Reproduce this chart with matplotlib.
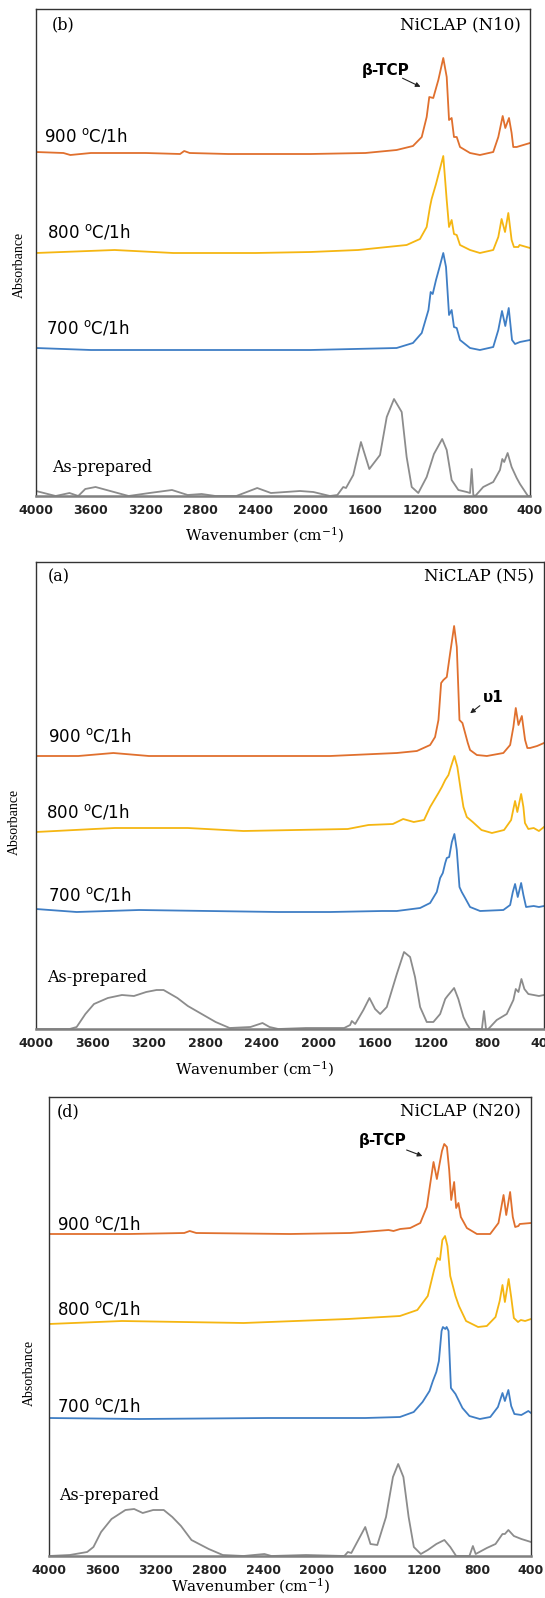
import matplotlib
matplotlib.use('Agg')
import matplotlib.pyplot as plt
from matplotlib.patches import FancyArrowPatch

plt.rcParams['mathtext.fontset'] = 'dejavuserif'

# ---- data (wavenumber cm-1, absorbance a.u. above each baseline) ----
# panel (b) NiCLAP (N10)
b900_wn = [4000, 3800, 3750, 3600, 3200, 2950, 2920, 2880, 2600, 2000, 1600, 1372, 1253, 1189, 1153, 1134, 1105,
           1068, 1032, 1007, 990, 971, 954, 934, 910, 837, 765, 668, 631, 599, 580, 553, 534, 522, 497, 473, 400]
b900_ab = [0.03, 0.02, 0.0, 0.02, 0.02, 0.01, 0.04, 0.02, 0.01, 0.01, 0.02, 0.05, 0.09, 0.18, 0.38, 0.58, 0.57,
           0.75, 0.97, 0.78, 0.35, 0.37, 0.18, 0.18, 0.08, 0.02, 0.0, 0.03, 0.18, 0.39, 0.27, 0.37, 0.22, 0.08, 0.08, 0.09, 0.12]
b800_wn = [4000, 3427, 3000, 2400, 2000, 1653, 1299, 1202, 1153, 1129, 1117, 1085, 1032, 1007, 990, 971, 954, 934,
           910, 837, 765, 668, 631, 607, 582, 558, 534, 517, 485, 476, 400]
b800_ab = [0.0, 0.03, 0.0, 0.0, 0.01, 0.03, 0.08, 0.14, 0.26, 0.46, 0.54, 0.69, 0.97, 0.53, 0.26, 0.33, 0.19, 0.18,
           0.08, 0.03, 0.0, 0.03, 0.16, 0.34, 0.21, 0.40, 0.13, 0.06, 0.06, 0.08, 0.05]
b700_wn = [4000, 3600, 2000, 1372, 1253, 1189, 1140, 1124, 1109, 1085, 1061, 1032, 1012, 990, 971, 954, 934, 910,
           837, 765, 668, 631, 604, 580, 555, 531, 509, 473, 400]
b700_ab = [0.02, 0.0, 0.0, 0.02, 0.07, 0.17, 0.40, 0.58, 0.56, 0.70, 0.82, 0.97, 0.83, 0.35, 0.40, 0.23, 0.22, 0.10,
           0.02, 0.0, 0.03, 0.20, 0.39, 0.24, 0.42, 0.10, 0.06, 0.08, 0.10]
bAP_wn = [4000, 3857, 3756, 3692, 3641, 3566, 3325, 3173, 3009, 2895, 2793, 2692, 2540, 2388, 2288, 2076, 1979, 1858,
          1804, 1761, 1741, 1688, 1632, 1571, 1493, 1444, 1391, 1335, 1299, 1262, 1214, 1153, 1100, 1040, 1007, 971,
          922, 861, 837, 825, 813, 799, 741, 668, 619, 602, 588, 563, 534, 497, 473, 415, 400]
bAP_ab = [0.05, 0.0, 0.03, 0.0, 0.07, 0.09, 0.0, 0.03, 0.06, 0.01, 0.02, 0.0, 0.0, 0.08, 0.03, 0.05, 0.04, 0.0,
          0.01, 0.09, 0.08, 0.21, 0.54, 0.27, 0.41, 0.79, 0.97, 0.84, 0.39, 0.09, 0.03, 0.19, 0.42, 0.57, 0.46, 0.16,
          0.06, 0.04, 0.03, 0.27, 0.01, 0.0, 0.09, 0.14, 0.26, 0.37, 0.34, 0.43, 0.29, 0.18, 0.12, 0.0, 0.0]

# panel (a) NiCLAP (N5)
a900_wn = [4000, 3700, 3452, 3200, 2600, 1916, 1443, 1301, 1207, 1172, 1148, 1129, 1113, 1089, 1065, 1037, 1018, 999,
           978, 959, 940, 924, 876, 805, 688, 640, 617, 600, 581, 557, 534, 518, 499, 449, 400]
a900_ab = [0.0, 0.0, 0.03, 0.0, 0.0, 0.0, 0.03, 0.05, 0.11, 0.19, 0.36, 0.73, 0.76, 0.79, 1.03, 1.30, 1.09, 0.36,
           0.33, 0.23, 0.13, 0.06, 0.01, 0.0, 0.03, 0.11, 0.29, 0.48, 0.31, 0.40, 0.16, 0.08, 0.08, 0.10, 0.13]
a800_wn = [4000, 3589, 3441, 2924, 2530, 1791, 1644, 1471, 1398, 1323, 1250, 1207, 1148, 1124, 1100, 1077, 1060, 1035,
           1014, 990, 971, 947, 905, 843, 769, 683, 633, 614, 605, 589, 562, 546, 535, 511, 473, 436, 400]
a800_ab = [0.0, 0.03, 0.04, 0.04, 0.01, 0.03, 0.07, 0.08, 0.13, 0.10, 0.12, 0.25, 0.39, 0.45, 0.52, 0.57, 0.65, 0.76,
           0.65, 0.42, 0.25, 0.15, 0.10, 0.02, -0.01, 0.02, 0.12, 0.25, 0.31, 0.20, 0.38, 0.25, 0.09, 0.03, 0.04, 0.01, 0.05]
a700_wn = [4000, 3712, 3269, 2284, 1916, 1547, 1443, 1278, 1207, 1160, 1136, 1117, 1100, 1089, 1072, 1053, 1035, 1018,
           999, 983, 959, 924, 853, 688, 640, 621, 605, 586, 562, 546, 527, 473, 436, 400]
a700_ab = [0.01, -0.02, 0.0, -0.02, -0.02, -0.01, -0.01, 0.02, 0.07, 0.18, 0.32, 0.37, 0.47, 0.52, 0.53, 0.68, 0.76, 0.60,
           0.23, 0.18, 0.12, 0.03, -0.01, 0.0, 0.05, 0.18, 0.26, 0.13, 0.27, 0.15, 0.03, 0.04, 0.03, 0.04]
aAP_wn = [4000, 3761, 3712, 3650, 3589, 3491, 3391, 3306, 3219, 3146, 3096, 2998, 2924, 2801, 2727, 2628, 2480, 2395,
          2345, 2283, 2086, 1816, 1774, 1762, 1738, 1680, 1637, 1597, 1561, 1514, 1443, 1392, 1349, 1314, 1278, 1231,
          1184, 1136, 1100, 1084, 1037, 1007, 971, 947, 924, 853, 841, 825, 811, 801, 735, 664, 617, 600, 581, 560,
          539, 511, 473, 436, 400]
aAP_ab = [0.0, 0.0, 0.02, 0.15, 0.25, 0.31, 0.34, 0.33, 0.37, 0.39, 0.39, 0.31, 0.23, 0.13, 0.07, 0.01, 0.02, 0.06,
          0.02, 0.0, 0.01, 0.01, 0.04, 0.08, 0.05, 0.19, 0.31, 0.20, 0.15, 0.22, 0.55, 0.77, 0.72, 0.52, 0.22, 0.07,
          0.07, 0.15, 0.30, 0.33, 0.41, 0.30, 0.12, 0.05, 0.0, 0.0, -0.01, 0.18, 0.0, -0.01, 0.09, 0.15, 0.29, 0.40,
          0.37, 0.50, 0.40, 0.35, 0.34, 0.33, 0.34]

# panel (d) NiCLAP (N20)
d900_wn = [4000, 3400, 2990, 2949, 2900, 2200, 1750, 1464, 1427, 1377, 1302, 1227, 1178, 1153, 1128, 1103, 1083, 1065,
           1048, 1028, 1011, 996, 974, 959, 942, 924, 879, 804, 705, 643, 605, 585, 556, 536, 518, 494, 484, 400]
d900_ab = [0.0, 0.0, 0.01, 0.03, 0.01, 0.0, 0.01, 0.04, 0.03, 0.05, 0.06, 0.11, 0.27, 0.50, 0.72, 0.55, 0.70, 0.83,
           0.90, 0.87, 0.64, 0.34, 0.52, 0.26, 0.31, 0.17, 0.06, 0.0, 0.0, 0.11, 0.39, 0.19, 0.42, 0.17, 0.07, 0.08, 0.10, 0.11]
d800_wn = [4000, 3455, 2547, 1768, 1638, 1379, 1249, 1171, 1124, 1099, 1080, 1062, 1042, 1024, 1003, 964, 938, 885,
           795, 730, 665, 634, 613, 595, 567, 548, 528, 497, 476, 444, 400]
d800_ab = [0.0, 0.03, 0.01, 0.05, 0.06, 0.08, 0.14, 0.28, 0.54, 0.66, 0.64, 0.84, 0.88, 0.78, 0.48, 0.28, 0.18, 0.03,
           -0.03, -0.02, 0.07, 0.23, 0.39, 0.22, 0.45, 0.27, 0.06, 0.02, 0.04, 0.03, 0.05]
d700_wn = [4000, 3326, 2365, 1638, 1379, 1276, 1210, 1158, 1133, 1107, 1088, 1068, 1058, 1040, 1030, 1016, 998, 964,
           912, 860, 782, 704, 647, 613, 595, 569, 548, 524, 472, 420, 400]
d700_ab = [0.0, -0.01, 0.0, 0.0, 0.01, 0.06, 0.16, 0.27, 0.37, 0.46, 0.57, 0.87, 0.91, 0.89, 0.91, 0.87, 0.30, 0.24,
           0.10, 0.02, -0.01, 0.01, 0.11, 0.25, 0.17, 0.28, 0.12, 0.04, 0.03, 0.07, 0.05]
dAP_wn = [4000, 3845, 3715, 3668, 3611, 3533, 3429, 3364, 3300, 3222, 3143, 3079, 3014, 2936, 2807, 2702, 2547, 2391,
          2339, 2080, 1794, 1768, 1742, 1690, 1638, 1599, 1548, 1483, 1431, 1392, 1353, 1314, 1275, 1223, 1171, 1107,
          1047, 1003, 959, 860, 834, 813, 730, 665, 613, 595, 569, 528, 472, 400]
dAP_ab = [0.0, 0.01, 0.04, 0.09, 0.24, 0.37, 0.46, 0.47, 0.43, 0.46, 0.46, 0.39, 0.30, 0.16, 0.07, 0.01, 0.0, 0.02,
          0.0, 0.01, 0.0, 0.04, 0.03, 0.16, 0.29, 0.12, 0.11, 0.39, 0.79, 0.92, 0.79, 0.39, 0.09, 0.02, 0.06, 0.12,
          0.16, 0.09, 0.0, 0.0, 0.10, 0.02, 0.08, 0.12, 0.22, 0.22, 0.26, 0.20, 0.17, 0.14]

labels = ['900 $^{\\mathsf{o}}$C/1h', '800 $^{\\mathsf{o}}$C/1h', '700 $^{\\mathsf{o}}$C/1h', 'As-prepared']
colors = ['#E0702E', '#F5B612', '#3F7EC5', '#8C8C8C']
xticks = [4000, 3600, 3200, 2800, 2400, 2000, 1600, 1200, 800, 400]

W, H = 545, 1598
fig = plt.figure(figsize=(W / 100, H / 100), dpi=100)


def fx(x):
    return x / W


def fy(y):
    return 1 - y / H


# frame given in picture pixels: [left, right, top, bottom]
panels = [
    dict(curves=[(b900_wn, b900_ab), (b800_wn, b800_ab), (b700_wn, b700_ab), (bAP_wn, bAP_ab)],
         offs=[3.41, 2.43, 1.46, 0.0], box=[36, 530, 9, 496], tag='(b)', tagxy=(52, 25),
         title='NiCLAP (N10)', titlexy=(521, 25),
         labxy=[(44, 136), (47, 232), (46, 328), (52, 467)], absxy=(19, 265), xlxy=(265, 535)),
    dict(curves=[(a900_wn, a900_ab), (a800_wn, a800_ab), (a700_wn, a700_ab), (aAP_wn, aAP_ab)],
         offs=[2.73, 1.97, 1.19, 0.0], box=[36, 544, 562, 1029], tag='(a)', tagxy=(48, 577),
         title='NiCLAP (N5)', titlexy=(534, 577),
         labxy=[(48, 736), (46, 812), (48, 895), (47, 978)], absxy=(14, 822), xlxy=(255, 1069)),
    dict(curves=[(d900_wn, d900_ab), (d800_wn, d800_ab), (d700_wn, d700_ab), (dAP_wn, dAP_ab)],
         offs=[3.22, 2.32, 1.38, 0.0], box=[49, 531, 1097, 1556], tag='(d)', tagxy=(57, 1112),
         title='NiCLAP (N20)', titlexy=(521, 1112),
         labxy=[(57, 1224), (57, 1309), (57, 1406), (59, 1495)], absxy=(29, 1373), xlxy=(251, 1586)),
]

for p in panels:
    l, r, t, b = p['box']
    ax = fig.add_axes([fx(l), fy(b), (r - l) / W, (b - t) / H])
    for (wn, ab), off, c in zip(p['curves'], p['offs'], colors):
        ax.plot(wn, [v + off for v in ab], color=c, lw=1.3, solid_joinstyle='round')
    ax.set_xlim(4000, 400)
    ax.set_ylim(0, (b - t) / 100)
    ax.set_yticks([])
    ax.set_xticks(xticks)
    ax.set_xticklabels([str(v) for v in xticks], fontsize=9, fontweight='bold', color='#222222',
                       family='DejaVu Sans')
    ax.tick_params(axis='x', length=0, pad=6)
    for s in ['top', 'left', 'right']:
        ax.spines[s].set_color('#333333')
        ax.spines[s].set_linewidth(1.0)
    ax.spines['bottom'].set_color('#808080')
    ax.spines['bottom'].set_linewidth(1.8)

    fig.text(fx(p['tagxy'][0]), fy(p['tagxy'][1]), p['tag'], family='DejaVu Serif', fontsize=11.5,
             ha='left', va='center')
    fig.text(fx(p['titlexy'][0]), fy(p['titlexy'][1]), p['title'], family='DejaVu Serif', fontsize=12,
             ha='right', va='center')
    for i, (lx, ly) in enumerate(p['labxy']):
        if i < 3:
            fig.text(fx(lx), fy(ly), labels[i], family='DejaVu Sans', fontsize=12, ha='left', va='center')
        else:
            fig.text(fx(lx), fy(ly), labels[i], family='DejaVu Serif', fontsize=11.5, ha='left', va='center')
    fig.text(fx(p['absxy'][0]), fy(p['absxy'][1]), 'Absorbance', family='Liberation Serif', fontsize=10,
             rotation=90, ha='center', va='center')
    fig.text(fx(p['xlxy'][0]), fy(p['xlxy'][1]), 'Wavenumber (cm$^{-1}$)', family='DejaVu Serif', fontsize=11,
             ha='center', va='center')

# peak annotations
notes = [('β-TCP', (362, 70), (400, 77), (423, 88)),
         ('υ1', (483, 697), (482, 704), (468, 715)),
         ('β-TCP', (359, 1140), (404, 1149), (425, 1157))]
for txt, (tx, ty), a0, a1 in notes:
    fig.text(fx(tx), fy(ty), txt, family='DejaVu Sans', fontweight='bold', fontsize=11, ha='left', va='center')
    fig.add_artist(FancyArrowPatch((fx(a0[0]), fy(a0[1])), (fx(a1[0]), fy(a1[1])), transform=fig.transFigure,
                                   arrowstyle='-|>', mutation_scale=7, lw=0.8, color='#222222'))

fig.savefig('out.png', dpi=100)
